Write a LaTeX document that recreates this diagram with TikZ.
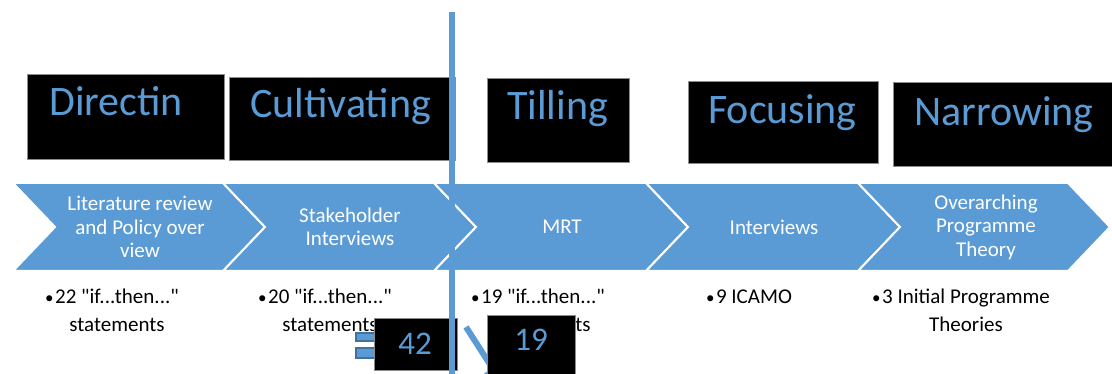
\documentclass[tikz,border=0pt]{standalone}
\usepackage{fontspec}
\setmainfont{Carlito}[Ligatures=TeXOff]
\usetikzlibrary{arrows.meta}
\definecolor{accent}{HTML}{5B9BD5}
\definecolor{accentdark}{HTML}{41719C}
\newcommand{\bul}{\llap{\raisebox{0.5pt}{\fontsize{17}{20}\selectfont•}\hspace{1.5pt}}}
\begin{document}
\begin{tikzpicture}[x=1pt,y=-1pt,
  chev/.style={fill=accent,draw=white,line width=2pt,line join=miter},
  chevtext/.style={text=white,align=center,font=\fontsize{21}{23.5}\selectfont,inner sep=0pt},
  tag/.style={fill=black,draw=black!45,line width=0.6pt},
  tagtext/.style={text=accent,anchor=base west,inner sep=0pt,font=\fontsize{42}{45}\selectfont},
  note/.style={text=black,anchor=base,inner sep=0pt,font=\fontsize{21}{26}\selectfont},
  count/.style={text=accent,inner sep=0pt,font=\fontsize{33}{36}\selectfont}]
\useasboundingbox (0,0) rectangle (1112,374);

% chevron process band
\foreach \a/\b in {13/223,223/434,434/646,646/858,858/1068}{
  \path[chev] (\a,183) -- (\b,183) -- (\b+42,227) -- (\b,271) -- (\a,271) -- (\a+42,227) -- cycle;
}
\node[chevtext] (s1) at (140,227) {Literature review\\and Policy over\\view};
\node[chevtext] (s2) at (350,227) {Stakeholder\\Interviews};
\node[chevtext] (s3) at (562,227) {MRT};
\node[chevtext] (s4) at (774,227) {Interviews};
\node[chevtext] (s5) at (986,227) {Overarching\\Programme\\Theory};

% notes under the band
\node[note] (n1a) at (117,304) {\bul 22 "if...then..."};
\node[note] (n1b) at (117,331) {statements};
\node[note] (n2a) at (330,304) {\bul 20 "if...then..."};
\node[note] (n2b) at (330,331) {statements};
\node[note] (n3a) at (543,304) {\bul 19 "if...then..."};
\node[note] (n3b) at (543,331) {statements};
\node[note] (n4a) at (754,304) {\bul 9 ICAMO};
\node[note] (n5a) at (966,304) {\bul 3 Initial Programme};
\node[note] (n5b) at (966,331) {Theories};

% stage labels
\draw[tag] (27,74) rectangle (224,159);
\node[tagtext] (t1) at (49,116) {Directin};
\draw[tag] (229,77) rectangle (455,160);
\node[tagtext] (t2) at (250,118) {Cultivating};
\draw[tag] (487,78) rectangle (629,162);
\node[tagtext] (t3) at (507,120) {Tilling};
\draw[tag] (688,81) rectangle (878,163);
\node[tagtext] (t4) at (708,124) {Focusing};
\draw[tag] (893,82) rectangle (1116,166);
\node[tagtext] (t5) at (914,126) {Narrowing};

% equals sign and arrow behind the counters
\path[fill=accent,draw=accentdark,line width=1.5pt] (356,333) rectangle (380,341);
\path[fill=accent,draw=accentdark,line width=1.5pt] (356,348) rectangle (380,358);
\coordinate (arA) at (466,327);
\coordinate (arB) at (500,380);
\draw[accent,line width=6pt,-{Triangle[length=14pt,width=20pt]}] (arA) -- (arB);

% counters
\draw[tag] (374,318) rectangle (457,370);
\node[count] (c1) at (415,344) {42};
\draw[tag] (487,315) rectangle (575,378);
\node[count] (c2) at (531,340) {19};

% divider
\coordinate (vtop) at (452,12);
\coordinate (vbot) at (452,374);
\draw[accent,line width=5.5pt] (vtop) -- (vbot);
\end{tikzpicture}
\end{document}
